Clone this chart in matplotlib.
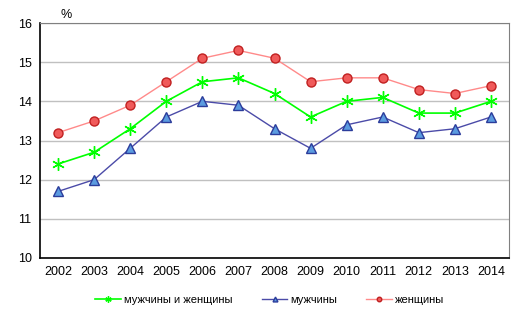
import numpy as np
import matplotlib.pyplot as plt

plt.rcParams['font.family'] = ['Liberation Sans', 'DejaVu Sans']

years = ['2002', '2003', '2004', '2005', '2006', '2007', '2008', '2009', '2010', '2011', '2012', '2013', '2014']
both = [12.4, 12.7, 13.3, 14.0, 14.5, 14.6, 14.2, 13.6, 14.0, 14.1, 13.7, 13.7, 14.0]
men = [11.7, 12.0, 12.8, 13.6, 14.0, 13.9, 13.3, 12.8, 13.4, 13.6, 13.2, 13.3, 13.6]
women = [13.2, 13.5, 13.9, 14.5, 15.1, 15.3, 15.1, 14.5, 14.6, 14.6, 14.3, 14.2, 14.4]

fig = plt.figure(figsize=(5.24, 3.23), dpi=100)
ax = fig.add_axes([40/524, 65/323, 469/524, 235/323])

x = np.arange(len(years))
ax.plot(x, both, color='#00FF00', lw=1.2, marker=(6, 2, 0), ms=9, mew=1.0,
        label='мужчины и женщины', zorder=3)
ax.plot(x, men, color='#4B4BA8', lw=1.0, marker='^', ms=7, mfc='#5B9BE0', mec='#2B3C9B',
        mew=1.0, label='мужчины', zorder=3)
ax.plot(x, women, color='#FF8A8A', lw=1.0, marker='o', ms=6.5, mfc='#F05A5A', mec='#C02020',
        mew=1.0, label='женщины', zorder=3)

ax.set_xlim(-0.5, len(years) - 0.5)
ax.set_ylim(10, 16)
ax.set_yticks([10, 11, 12, 13, 14, 15, 16])
ax.set_xticks(x)
ax.set_xticklabels(years)
ax.tick_params(length=0, labelsize=9, pad=6)
ax.grid(axis='y', color='#C0C0C0', lw=1)
ax.set_axisbelow(True)
for s in ['top', 'right']:
    ax.spines[s].set_color('#808080')
for s in ['left', 'bottom']:
    ax.spines[s].set_color('black')
    ax.spines[s].set_linewidth(1.2)

fig.text(66/524, 1 - 15/323, '%', fontsize=9, ha='center', va='center')

fig.legend(loc='center', bbox_to_anchor=(270/524, 1 - 300/323), ncol=3, frameon=False,
           fontsize=8, handlelength=2.3, columnspacing=2.6, handletextpad=0.3,
           markerscale=0.5)

fig.savefig('out.png', dpi=100)
